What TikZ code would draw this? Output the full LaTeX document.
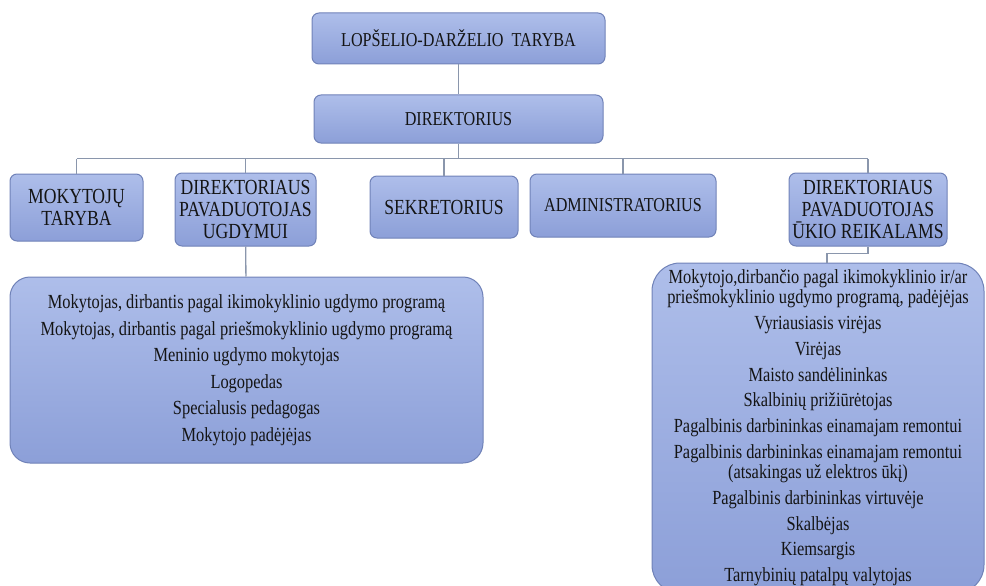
\documentclass[tikz,border=0pt]{standalone}
\usepackage{fontspec}
\newfontfamily\orgserif{Liberation Serif}[FakeStretch=0.82]
\usetikzlibrary{calc}
\definecolor{boxtop}{HTML}{AEBEEA}
\definecolor{boxbot}{HTML}{8C9FD8}
\definecolor{boxline}{HTML}{7082B8}
\definecolor{linkline}{HTML}{8A96AC}
\newcommand{\topfont}{\orgserif\fontsize{19.7}{21}\selectfont}
\newcommand{\headfont}{\orgserif\fontsize{21.5}{22}\selectfont}
\newcommand{\listfont}{\orgserif\fontsize{20}{19.5}\selectfont}
\tikzset{
	orgbox/.style={draw=boxline, line width=1pt, rounded corners=7pt, top color=boxtop, bottom color=boxbot, align=center, font=\headfont, text=black!92, inner sep=2pt},
	topbox/.style={orgbox, font=\topfont},
	listbox/.style={orgbox, font=\listfont, rounded corners=20pt},
	link/.style={draw=linkline, line width=1.3pt}
}

\begin{document}
\begin{tikzpicture}[x=1pt,y=-1pt]
	\useasboundingbox (0,0) rectangle (986,586);

	\node[topbox, minimum width=293, minimum height=51] (taryba) at (458.5,38.5) {LOPŠELIO-DARŽELIO\ \ TARYBA};
	\node[topbox, minimum width=289, minimum height=48] (direktorius) at (458.5,119) {DIREKTORIUS};

	\node[orgbox, minimum width=133, minimum height=67] (mtaryba) at (76.5,207.5) {MOKYTOJŲ\\TARYBA};
	\node[orgbox, minimum width=141, minimum height=73] (pavugd) at (245.5,209.5) {DIREKTORIAUS\\PAVADUOTOJAS\\UGDYMUI};
	\node[orgbox, minimum width=148, minimum height=62] (sekr) at (444,207) {SEKRETORIUS};
	\node[topbox, minimum width=186, minimum height=63] (admin) at (623,205.5) {ADMINISTRATORIUS};
	\node[orgbox, minimum width=158, minimum height=73] (pavukio) at (868,209.5) {DIREKTORIAUS\\PAVADUOTOJAS\\ŪKIO REIKALAMS};

	\node[listbox, minimum width=473, minimum height=186] (ugdlist) at (246.5,370) {
		Mokytojas, dirbantis pagal ikimokyklinio ugdymo programą\\[7pt]
		Mokytojas, dirbantis pagal priešmokyklinio ugdymo programą\\[7pt]
		Meninio ugdymo mokytojas\\[7pt]
		Logopedas\\[7pt]
		Specialusis pedagogas\\[7pt]
		Mokytojo padėjėjas};

	\node[listbox, rounded corners=28pt, minimum width=332, minimum height=330] (ukiolist) at (818,428) {
		Mokytojo,dirbančio pagal ikimokyklinio ir/ar\\
		priešmokyklinio ugdymo programą, padėjėjas\\[6.4pt]
		Vyriausiasis virėjas\\[6.4pt]
		Virėjas\\[6.4pt]
		Maisto sandėlininkas\\[6.4pt]
		Skalbinių prižiūrėtojas\\[6.4pt]
		Pagalbinis darbininkas einamajam remontui\\[6.4pt]
		Pagalbinis darbininkas einamajam remontui\\
		(atsakingas už elektros ūkį)\\[6.4pt]
		Pagalbinis darbininkas virtuvėje\\[6.4pt]
		Skalbėjas\\[6.4pt]
		Kiemsargis\\[6.4pt]
		Tarnybinių patalpų valytojas};

	\draw[link] (taryba) -- (direktorius);
	\draw[link] (direktorius.south) -- ++(0,15) coordinate (bus);
	\draw[link] (bus -| mtaryba) -- (bus -| pavukio);
	\foreach \n in {mtaryba,pavugd,sekr,admin,pavukio}
		\draw[link] (\n.north) -- (\n.north |- bus);
	\draw[link] (pavugd) -- (ugdlist);
	\coordinate (ukiodrop) at ($(ukiolist.north)+(9,0)$);
	\draw[link] (pavukio.south) -- ++(0,7) -| (ukiodrop);
\end{tikzpicture}
\end{document}
